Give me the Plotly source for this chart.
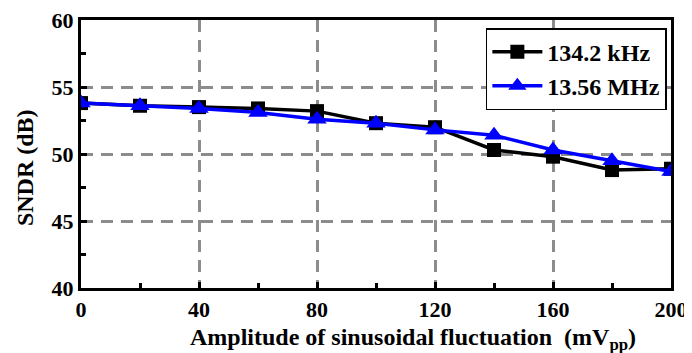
import plotly.graph_objects as go

amplitude = [0, 20, 40, 60, 80, 100, 120, 140, 160, 180, 200]
sndr_134k = [53.8, 53.6, 53.5, 53.4, 53.2, 52.3, 52.0, 50.3, 49.8, 48.8, 48.9]
sndr_1356m = [53.8, 53.6, 53.4, 53.1, 52.6, 52.3, 51.8, 51.4, 50.3, 49.5, 48.7]

x_title = "<b>Amplitude of sinusoidal fluctuation  (mV<sub>pp</sub>)</b>"
y_title = "<b>SNDR (dB)</b>"

font_family = "Liberation Serif"

fig = go.Figure()
fig.add_trace(go.Scatter(
    x=amplitude, y=sndr_134k, name="<b>134.2 kHz</b>", mode="lines+markers",
    line=dict(color="black", width=3.5),
    marker=dict(symbol="square", size=14, color="black"),
))
fig.add_trace(go.Scatter(
    x=amplitude, y=sndr_1356m, name="<b>13.56 MHz</b>", mode="lines+markers",
    line=dict(color="#0000ff", width=3.5),
    marker=dict(symbol="triangle-up", size=17, color="#0000ff"),
))

axis_common = dict(
    showline=True, linecolor="black", linewidth=3, mirror=True,
    ticks="inside", ticklen=6, tickwidth=3, tickcolor="black",
    showgrid=True, gridcolor="#8c8c8c", gridwidth=2.5, griddash="12px,8px",
    zeroline=False, automargin=False, ticklabeloverflow="allow",
    tickfont=dict(family=font_family, size=22, color="black", weight="bold"),
)

fig.update_xaxes(
    range=[0, 200], tickvals=[0, 40, 80, 120, 160, 200],
    minor=dict(ticks="inside", tickvals=[20, 60, 100, 140, 180], ticklen=5, tickwidth=3, tickcolor="black", showgrid=False),
    **axis_common,
)
fig.update_yaxes(
    range=[40, 60], tickvals=[40, 45, 50, 55, 60],
    minor=dict(ticks="inside", tickvals=[42.5, 47.5, 52.5, 57.5], ticklen=5, tickwidth=3, tickcolor="black", showgrid=False),
    **axis_common,
)

fig.add_annotation(text=x_title, xref="paper", yref="paper", x=0.563, y=-0.19,
                   xanchor="center", yanchor="middle", showarrow=False,
                   font=dict(family=font_family, size=24, color="black"))
fig.add_annotation(text=y_title, xref="paper", yref="paper", x=-0.095, y=0.451,
                   xanchor="center", yanchor="middle", showarrow=False, textangle=-90,
                   font=dict(family=font_family, size=24, color="black"))

fig.update_layout(
    width=684, height=345,
    margin=dict(l=73, r=21, t=12, b=65),
    plot_bgcolor="white", paper_bgcolor="white",
    font=dict(family=font_family, color="black"),
    legend=dict(
        x=0.993, y=0.97, xanchor="right", yanchor="top",
        bgcolor="white", bordercolor="black", borderwidth=1.5,
        font=dict(family=font_family, size=24, color="black"),
        itemwidth=50, tracegroupgap=0,
    ),
)

fig.write_html("out.html")
